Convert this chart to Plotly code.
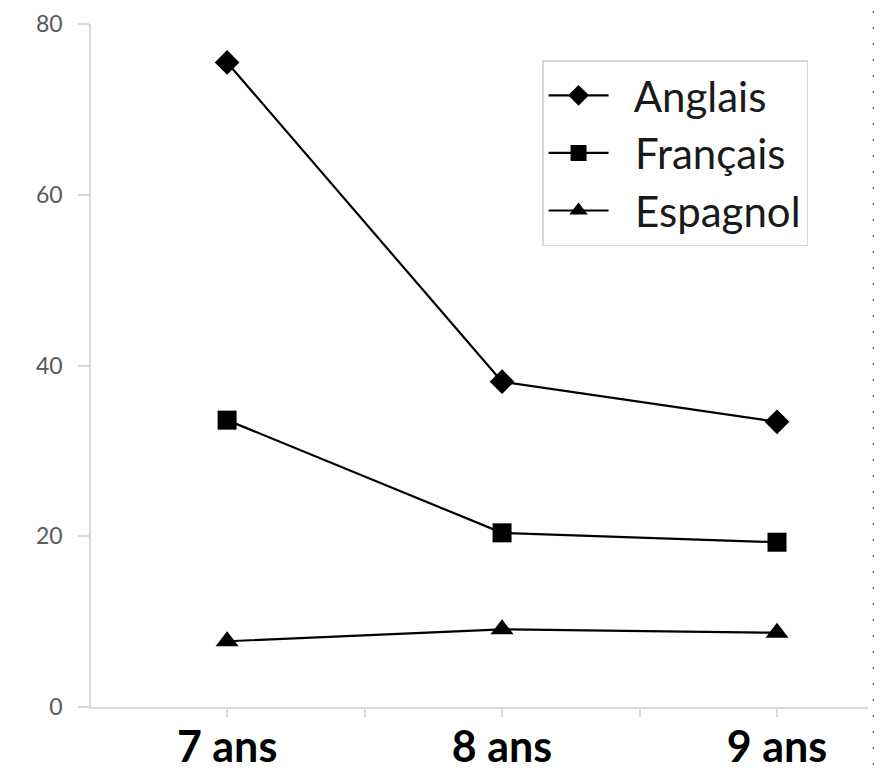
import plotly.graph_objects as go

categories = ["7 ans", "8 ans", "9 ans"]
anglais = [75.5, 38.1, 33.4]
francais = [33.6, 20.4, 19.3]
espagnol = [7.7, 9.1, 8.7]
y_ticks = [0, 20, 40, 60, 80]

FONT = "Lato"
xs = list(range(len(categories)))

fig = go.Figure()
series = [
    ("Anglais", anglais, "diamond", 19),
    ("Français", francais, "square", 19),
    ("Espagnol", espagnol, "triangle-up", 20),
]
for name, vals, sym, sz in series:
    fig.add_trace(go.Scatter(
        x=xs, y=vals, name="\u00a0\u00a0" + name, mode="lines+markers",
        line=dict(color="black", width=2.2),
        marker=dict(symbol=sym, size=sz, color="black"),
    ))

tickvals = []
ticktext = []
for i, c in enumerate(categories):
    tickvals += [i - 0.5, i]
    ticktext += ["", c]

# page body has an 8px margin: figure is 874x766 placed at (8, 8)
PLOT_H = 766 - 16 - 67
fig.update_layout(
    width=874, height=766,
    margin=dict(l=83, r=14, t=16, b=67),
    paper_bgcolor="white", plot_bgcolor="white",
    font=dict(family=FONT, color="black"),
    showlegend=True,
    legend=dict(
        x=0.5805, y=1 - 36 / PLOT_H, xanchor="left", yanchor="top",
        bordercolor="#d9d9d9", borderwidth=1.5, bgcolor="white",
        font=dict(family=FONT, size=42, color="#1a1a1a"),
        itemwidth=60, tracegroupgap=0,
    ),
    xaxis=dict(
        range=[-0.495, 2.331], tickvals=tickvals, ticktext=ticktext,
        showgrid=False, zeroline=False, automargin=False,
        showline=True, linecolor="#d9d9d9", linewidth=1.5,
        ticks="outside", ticklen=8, tickcolor="#d9d9d9", tickwidth=1.5,
        ticklabelstandoff=-6, ticklabeloverflow="allow",
        tickfont=dict(family=FONT, size=43, color="black", weight="bold"),
    ),
    yaxis=dict(
        range=[0, 80], tickvals=y_ticks,
        showgrid=False, zeroline=False, automargin=False,
        showline=True, linecolor="#d9d9d9", linewidth=1.5,
        ticks="outside", ticklen=11, tickcolor="#d9d9d9", tickwidth=1.5,
        ticklabelstandoff=11, ticklabeloverflow="allow",
        tickfont=dict(family=FONT, size=23, color="#595959"),
    ),
)

# dotted page border on the right
for xp, ytop in [(1.0073, 1 + 13 / PLOT_H), (1.0171, 1 + 21 / PLOT_H)]:
    fig.add_shape(type="line", xref="paper", yref="paper",
                  x0=xp, x1=xp, y0=ytop, y1=-0.2,
                  line=dict(color="#4472C4", width=2, dash="2px,14px"))

fig.write_html("out.html")
